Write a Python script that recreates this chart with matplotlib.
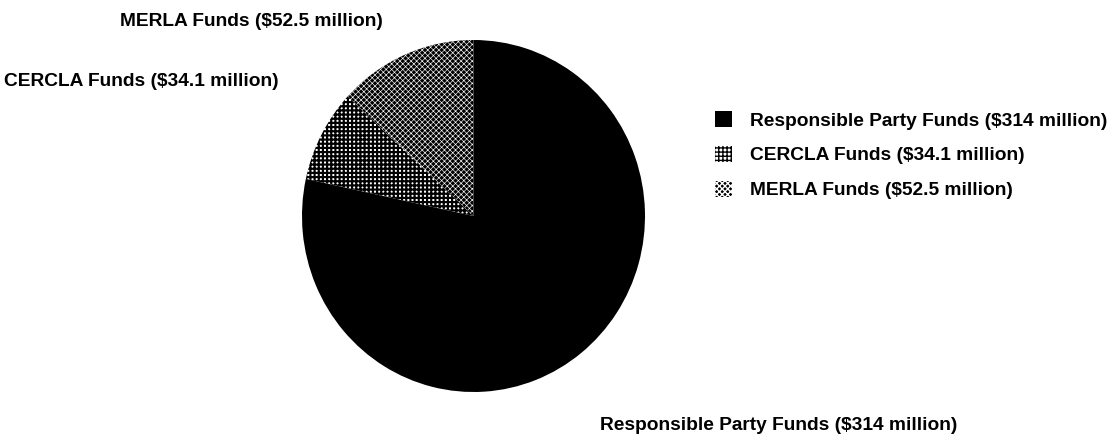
import matplotlib.pyplot as plt
from matplotlib.patches import Patch

plt.rcParams['font.family'] = ['Liberation Sans', 'DejaVu Sans']

# Funding sources (millions of dollars), drawn from 12 o'clock counter-clockwise
sources = ['MERLA Funds', 'CERCLA Funds', 'Responsible Party Funds']
amounts = [52.5, 34.1, 314]
amount_text = ['$52.5 million', '$34.1 million', '$314 million']
legend_order = [2, 1, 0]

# fill styles: black base with fine white checker, white base with black grid, solid black
face = ['black', 'white', 'black']
hatch_color = ['white', 'black', 'black']
hatches = ['xxxxxx', '++++', None]
hatch_lw = [0.45, 1.55, 1.0]

W, H = 1115, 437
fig = plt.figure(figsize=(W / 100, H / 100), dpi=100)
ax = fig.add_axes([302 / W, (H - 392) / H, 343 / W, 352 / H])

wedges, _ = ax.pie(amounts, startangle=90, counterclock=True, radius=1,
                   colors=face, wedgeprops=dict(linewidth=0))


def style(p, i):
    p.set_edgecolor(hatch_color[i])
    p.set_linewidth(0)
    if hatches[i]:
        p.set_hatch(hatches[i])
        p.set_hatch_linewidth(hatch_lw[i])


for i, w in enumerate(wedges):
    style(w, i)
ax.set_aspect('auto')
ax.set_xlim(-1, 1)
ax.set_ylim(-1, 1)
ax.axis('off')

labels = [f'{s} ({t})' for s, t in zip(sources, amount_text)]
fs = 13.8

# slice labels
fig.text(120 / W, 1 - 21 / H, labels[0], fontsize=fs, fontweight='bold', va='center', ha='left')
fig.text(4 / W, 1 - 82 / H, labels[1], fontsize=fs, fontweight='bold', va='center', ha='left')
fig.text(600 / W, 1 - 426 / H, labels[2], fontsize=fs, fontweight='bold', va='center', ha='left')

handles = []
for i in legend_order:
    p = Patch(facecolor=face[i])
    style(p, i)
    handles.append(p)
fig.legend(handles, [labels[i] for i in legend_order], loc='upper left',
           bbox_to_anchor=(715 / W, 1 - 111 / H), frameon=False,
           borderpad=0, borderaxespad=0,
           prop=dict(size=fs, weight='bold'), handlelength=0.9, handleheight=0.9,
           handletextpad=0.9, labelspacing=0.85)

fig.savefig('out.png', dpi=100)
